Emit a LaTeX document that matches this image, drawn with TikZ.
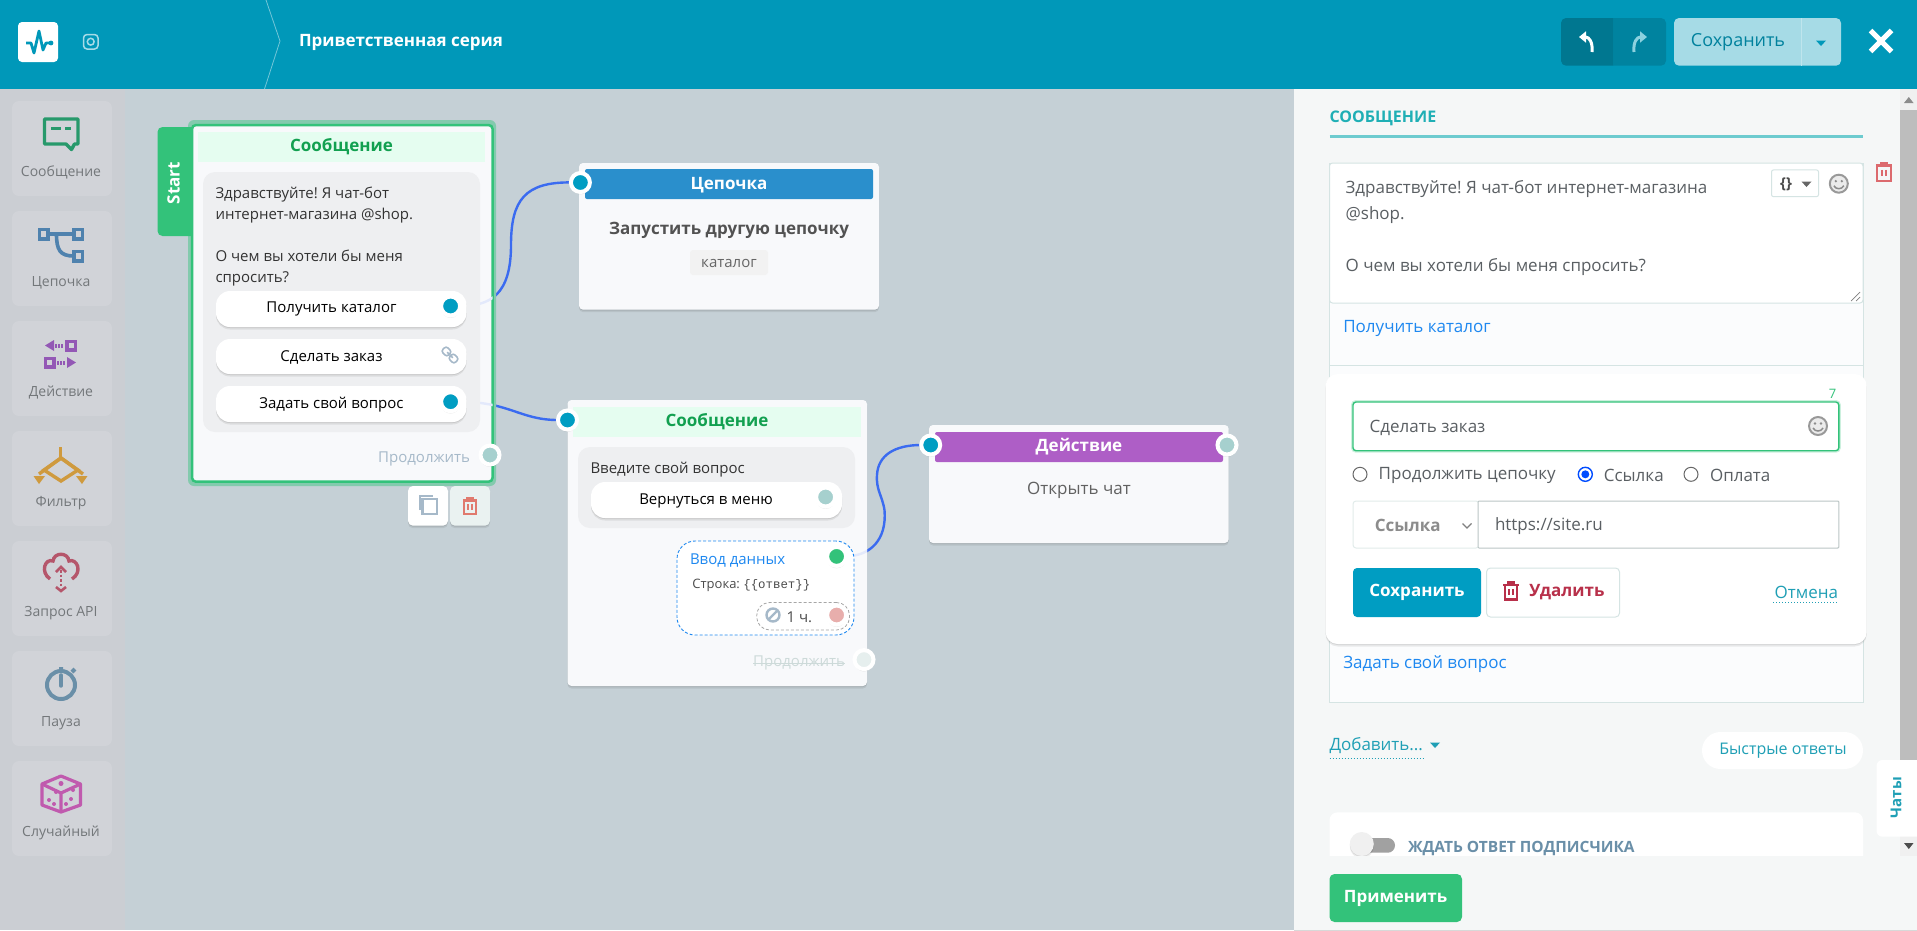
\documentclass[tikz,border=0pt]{standalone}
\usepackage{fontspec}
\setmainfont{Open Sans}
\newfontfamily\monofnt{Liberation Mono}
\usetikzlibrary{shadows,arrows.meta}
\frenchspacing
\pgfdeclarelayer{paper}
\pgfdeclarelayer{wires}
\pgfdeclarelayer{cards}
\pgfdeclarelayer{faint}
\pgfsetlayers{paper,wires,cards,faint,main}
\definecolor{headc}{HTML}{0098B9}
\definecolor{canvasc}{HTML}{C5D0D6}
\definecolor{sidec}{HTML}{CBCED3}
\definecolor{sidebtnc}{HTML}{D1D3D8}
\definecolor{cardc}{HTML}{F8F9FB}
\definecolor{bubblec}{HTML}{EEEFF1}
\definecolor{greenc}{HTML}{33C27A}
\definecolor{greentxt}{HTML}{12A050}
\definecolor{mintc}{HTML}{E5FDF0}
\definecolor{portc}{HTML}{009DC2}
\definecolor{paleport}{HTML}{A6D0CE}
\definecolor{redport}{HTML}{E8AEAC}
\definecolor{wirec}{HTML}{3B6BF0}
\definecolor{wirefaint}{HTML}{E3E9FB}
\definecolor{panelc}{HTML}{F5F7F7}
\definecolor{edgec}{HTML}{D5E4E3}
\definecolor{tealtxt}{HTML}{1F9FB5}
\definecolor{titleteal}{HTML}{1FAFB5}
\definecolor{linkc}{HTML}{1E88F0}
\definecolor{txtc}{HTML}{5A5F63}
\definecolor{chainblue}{HTML}{2A8FCC}
\definecolor{actpurple}{HTML}{AE5EC6}
\definecolor{delred}{HTML}{B8304A}
\definecolor{msgicon}{HTML}{27996B}
\definecolor{chainicon}{HTML}{4F82AE}
\definecolor{acticon}{HTML}{9358B5}
\definecolor{filticon}{HTML}{CF9A3E}
\definecolor{apiicon}{HTML}{B5566B}
\definecolor{waiticon}{HTML}{6A8FA8}
\definecolor{rndicon}{HTML}{C05AAE}
\definecolor{bangrey}{HTML}{A6B9C9}
\definecolor{droptrash}{HTML}{E07A6E}
\definecolor{paneltrash}{HTML}{DC6A6E}
\newcommand{\fs}[1]{\fontsize{#1}{#1}\selectfont}
\tikzset{
  x=1pt,y=-1pt,
  every node/.style={inner sep=0pt,outer sep=0pt},
  wh/.style 2 args={minimum width=#1pt,minimum height=#2pt},
  softshadow/.style={drop shadow={shadow xshift=0pt,shadow yshift=-2.5pt,opacity=.07,fill=black},
    drop shadow={shadow xshift=0pt,shadow yshift=-1pt,opacity=.09,fill=black}},
  card/.style={fill=cardc,rounded corners=4pt,softshadow},
  band/.style={rounded corners=2pt},
  bubble/.style={fill=bubblec,rounded corners=12pt},
  pillbtn/.style={fill=white,rounded corners=14pt},
  sidebtn/.style={fill=sidebtnc,rounded corners=7pt,wh={100}{95}},
  porto/.style={circle,minimum size=19pt,line width=4pt,draw=white,softshadow},
  wire/.style={draw=wirec,line width=2.4pt},
  wirelight/.style={draw=wirefaint,line width=2.4pt},
  icon/.style={line width=3pt,line join=round},
  tx/.style={yshift=-1.8pt},
  sidetxt/.style={tx,font=\fs{14},text=txtc!85!white},
  head/.style={tx,font=\fs{17}\bfseries,text=white},
  bodytxt/.style={tx,font=\fs{15},text=black!80},
  paneltxt/.style={tx,font=\fs{17},text=txtc},
  inputbox/.style={fill=white,draw=edgec,line width=1pt,rounded corners=3pt},
  radiobox/.style={circle,minimum size=14pt,draw=black!60,line width=1pt,fill=white},
}
\newcommand{\caretmark}[3]{\fill[#3] (#1-5,#2-2.5) -- (#1+5,#2-2.5) -- (#1,#2+3) -- cycle;}
\newcommand{\trashmark}[4]{\begin{scope}[shift={(#1,#2)},scale=#4,draw=#3,line width=2.2pt,line join=miter]
  \draw (-9,-7) -- (9,-7);
  \draw (-3.5,-7) -- (-3.5,-10) -- (3.5,-10) -- (3.5,-7);
  \draw (-7.5,-7) -- (-7.5,10) -- (7.5,10) -- (7.5,-7);
  \draw (-2.6,-2) -- (-2.6,5);
  \draw (2.6,-2) -- (2.6,5);
\end{scope}}
\newcommand{\facemark}[2]{\begin{scope}[shift={(#1,#2)}]
  \draw[black!40,line width=2pt,fill=black!8] (0,0) circle[radius=9pt];
  \fill[black!45] (-3,-2.5) circle[radius=1.3pt] (3,-2.5) circle[radius=1.3pt];
  \draw[black!45,line width=1.5pt] (-5,2) .. controls (-3,6) and (3,6) .. (5,2);
\end{scope}}
\begin{document}
\begin{tikzpicture}
\useasboundingbox (0,0) rectangle (1917,930);
\begin{pgfonlayer}{paper}
\node[fill=canvasc,wh={1917}{930}] (canvas) at (958.5,465) {};
\end{pgfonlayer}

% top bar
\node[fill=headc,wh={1917}{89}] (topbar) at (958.5,44.5) {};
\node[fill=white,rounded corners=4pt,wh={40}{40}] (logo) at (38,42) {};
\draw[headc,line width=2.8pt,line join=round] (26,43) -- (31,43) -- (34,53) -- (39,31) -- (43,50) -- (46,43) -- (51,43);
\fill[headc] (51,43) circle[radius=2.4pt];
\draw[headc!35!white,line width=1.5pt,rounded corners=3.5pt] (83.5,34.5) rectangle (98,49);
\draw[headc!35!white,line width=1.5pt] (90.7,41.7) circle[radius=3.4pt];
\draw[headc!55!white,line width=.8pt] (266,0) -- (280,41) -- (264.5,89);
\node[head,anchor=west] (flowname) at (299,40.5) {Приветственная серия};
\fill[black!22!headc,rounded corners=5pt] (1613.6,18) -- (1561,18) -- (1561,65.7) -- (1613.6,65.7);
\fill[black!14!headc,rounded corners=5pt] (1613.6,18) -- (1666,18) -- (1666,65.7) -- (1613.6,65.7);
\draw[white,line width=3pt,-{Triangle[length=7pt,width=11pt]}] (1592,52) .. controls (1593,42) and (1589,37) .. (1579,37);
\draw[headc!45!white,line width=3pt,-{Triangle[length=7pt,width=11pt]}] (1634,52) .. controls (1633,42) and (1637,37) .. (1647,37);
\node[fill=headc!35!white,rounded corners=5pt,wh={167}{47.7}] (savetop) at (1757.5,41.85) {};
\draw[white!75!headc,line width=.8pt] (1801.4,18) -- (1801.4,65.7);
\node[tx,font=\fs{18},text=headc!85!black] (savetoptxt) at (1738,40.5) {Сохранить};
\caretmark{1821}{43}{headc}
\draw[white,line width=5pt] (1870.5,30.5) -- (1891.5,51.5) (1870.5,51.5) -- (1891.5,30.5);

% left tool bar
\node[fill=sidec,wh={124.5}{841}] (toolbar) at (62.25,509.5) {};
\foreach \ypos/\tname/\tlab in {148.5/msg/Сообщение,258.5/chain/Цепочка,368.5/act/Действие,478.5/filt/Фильтр,588.5/api/Запрос API,698.5/wait/Пауза,808.5/rnd/Случайный}{
  \node[sidebtn] (tool\tname) at (62,\ypos) {};
  \node[sidetxt] (tool\tname txt) at (61,\ypos+22.5) {\tlab};
}
% tool icons
\draw[icon,line width=3.4pt,draw=msgicon] (44.5,119) -- (78,119) -- (78,144) -- (74.5,144) -- (71.5,149.5) -- (66,144) -- (44.5,144) -- cycle;
\draw[icon,draw=msgicon] (51,128) -- (61,128) (65,128) -- (71,128);
\begin{scope}[draw=chainicon,line width=3.6pt]
\draw (39.5,229.5) rectangle (48,239);
\draw (74,229.5) rectangle (82.5,239);
\draw (74,251.5) rectangle (82.5,261);
\draw (48,234) -- (74,234);
\draw (56.5,234) .. controls (56.5,250) and (60,256) .. (74,256);
\end{scope}
\begin{scope}[draw=acticon,fill=acticon]
\fill (45,345.5) -- (54,340) -- (54,351) -- cycle;
\draw[line width=4pt,dash pattern=on 2pt off 1.2pt] (55,345.5) -- (64,345.5);
\draw[line width=3.6pt] (67,341.5) rectangle (75.5,350);
\draw[line width=3.6pt] (45.5,358.5) rectangle (54,367);
\draw[line width=4pt,dash pattern=on 2pt off 1.2pt] (57,362.5) -- (66,362.5);
\fill (76,362.5) -- (67,357) -- (67,368) -- cycle;
\end{scope}
\begin{scope}[draw=filticon,fill=filticon,line width=3.4pt]
\draw (60.5,447) -- (60.5,458);
\draw (61,458) -- (44,470) -- (61,481) -- (78,470) -- cycle;
\draw (61,458) -- (39,474) (61,458) -- (83,474);
\fill (33.5,476) -- (45,476) -- (39,484) -- cycle;
\fill (76,476) -- (87.5,476) -- (82,484) -- cycle;
\end{scope}
\begin{scope}[draw=apiicon,line width=3.4pt]
\draw (50,579) .. controls (40,572) and (45,558) .. (53,561) .. controls (54,552) and (68,552) .. (69,561) .. controls (77,558) and (83,572) .. (72,579);
\draw[line width=2.6pt] (56,572) -- (61,567) -- (66,572);
\draw[line width=2.6pt,dash pattern=on 2.5pt off 2pt] (61,570) -- (61,587);
\draw[line width=2.6pt] (56,587) -- (61,591) -- (66,587);
\end{scope}
\begin{scope}[draw=waiticon,line width=4pt]
\draw (61,685) circle[radius=14pt];
\draw (61,671) -- (61,667) (72,672) -- (75,669);
\draw[line width=3.4pt,line cap=round] (61,675) -- (61,686);
\end{scope}
\begin{scope}[draw=rndicon,fill=rndicon,line width=3.2pt,line join=round]
\draw (61,776) -- (80.5,784) -- (80.5,805) -- (61,812) -- (42,805) -- (42,784) -- cycle;
\draw (42,784) -- (61,793) -- (80.5,784) (61,793) -- (61,812);
\fill (61,783.5) circle[radius=2.5pt] (56,792) circle[radius=2pt] (49,800) circle[radius=2pt] (73,790) circle[radius=2pt] (71,799) circle[radius=2pt] (66,804) circle[radius=2pt] (54,804) circle[radius=2pt];
\end{scope}

% first message
\begin{pgfonlayer}{cards}
\node[fill=greenc!45!canvasc,rounded corners=6pt,wh={308}{366}] (firstglow) at (342,303) {};
\node[fill=greenc,rounded corners=5pt,wh={42.5}{109}] (starttab) at (178.75,181.5) {};
\node[draw=greenc,line width=2.5pt,fill=cardc,rounded corners=4pt,wh={300.6}{356.7}] (firstcard) at (342.3,303.35) {};
\end{pgfonlayer}
\node[font=\fs{17}\bfseries,text=white,rotate=90] (starttxt) at (173.5,183) {Start};
\node[fill=mintc,wh={287}{30}] (firsthead) at (341.5,147) {};
\node[tx,font=\fs{17}\bfseries,text=greentxt] (firsttitle) at (341.5,145) {Сообщение};
\node[bubble,wh={277}{260}] (firstbubble) at (341.5,302) {};
\node[bodytxt,anchor=west,align=left,font=\fontsize{15}{21}\selectfont] (firsttxt) at (215.5,235) {Здравствуйте! Я чат-бот\\интернет-магазина @shop.\\[21pt]О чем вы хотели бы меня\\спросить?};
\node[pillbtn,softshadow,wh={250.5}{36}] (catbtn) at (341.25,309) {};
\node[pillbtn,softshadow,wh={250.5}{35}] (orderbtn) at (341.25,356.5) {};
\node[pillbtn,softshadow,wh={250.5}{36}] (askbtn) at (341.25,404) {};
\node[tx,font=\fs{15},text=black] (cattxt) at (331.5,307.5) {Получить каталог};
\node[tx,font=\fs{15},text=black] (ordertxt) at (331.5,356) {Сделать заказ};
\node[tx,font=\fs{15},text=black] (asktxt) at (331.5,403) {Задать свой вопрос};
\node[porto,fill=portc] (catport) at (450.6,306) {};
\node[porto,fill=portc] (askport) at (450.6,401.7) {};
\begin{scope}[shift={(450,355)},draw=bangrey,line width=1.6pt,rotate=-45]
\draw[rounded corners=2.5pt] (-1,-3.5) rectangle (-9,3.5);
\draw[rounded corners=2.5pt] (1,-3.5) rectangle (9,3.5);
\draw (-4,0) -- (4,0);
\end{scope}
\node[tx,font=\fs{15},text=bangrey,anchor=east] (firstnext) at (470,457) {Продолжить};
\node[porto,fill=paleport] (firstnextport) at (490,455) {};
\node[fill=white,rounded corners=5pt,softshadow,wh={40}{39.7}] (copybtn) at (428,505.85) {};
\node[fill=edgec!50!white,rounded corners=5pt,softshadow,wh={40}{39.7}] (dropbtn) at (470,505.85) {};
\draw[bangrey,line width=2.2pt] (422.5,499) rectangle (436.8,514);
\draw[bangrey,line width=1.8pt] (419.6,510) -- (419.6,496) -- (432.6,496);
\trashmark{470}{506}{droptrash}{.8}

% chain block
\begin{pgfonlayer}{cards}
\node[card,wh={300}{146.6}] (chaincard) at (729,236.3) {};
\end{pgfonlayer}
\node[band,fill=chainblue,wh={288}{30}] (chainhead) at (729,184) {};
\node[head] (chaintitle) at (729,183) {Цепочка};
\node[porto,fill=portc] (chainport) at (580.4,182.5) {};
\node[tx,font=\fs{17}\bfseries,text=black!68] (chainrun) at (729,228.6) {Запустить другую цепочку};
\node[fill=black!5,rounded corners=3pt,wh={78}{25}] (chaintag) at (729,262.5) {};
\node[tx,font=\fs{15},text=black!60] (chaintagtxt) at (729,262) {каталог};

% second message
\begin{pgfonlayer}{cards}
\node[card,wh={299.5}{286}] (askcard) at (717.25,543) {};
\end{pgfonlayer}
\node[fill=mintc,wh={287.5}{30}] (askhead) at (716.75,422) {};
\node[tx,font=\fs{17}\bfseries,text=greentxt] (asktitle) at (717,420) {Сообщение};
\node[porto,fill=portc] (askin) at (567.5,420) {};
\node[bubble,wh={277}{81}] (askbubble) at (716.5,487.5) {};
\node[bodytxt,anchor=west] (askprompt) at (590.5,468) {Введите свой вопрос};
\node[pillbtn,softshadow,wh={251}{36}] (backbtn) at (716.5,500) {};
\node[tx,font=\fs{15},text=black] (backtxt) at (706,499) {Вернуться в меню};
\node[porto,fill=paleport] (backport) at (825.6,497) {};
\node[fill=white,draw=linkc,dash pattern=on 3pt off 2pt,line width=.9pt,rounded corners=18pt,wh={177}{94}] (inputblock) at (765.5,588) {};
\node[tx,font=\fs{15},text=linkc,anchor=west] (inputtitle) at (690,559) {Ввод данных};
\node[tx,font=\fs{13},text=black!70,anchor=west] (inputline) at (692.4,584) {Строка: {\monofnt\fs{12.4}\{\{ответ\}\}}};
\node[draw=black!35,dash pattern=on 3pt off 2pt,line width=.8pt,rounded corners=13pt,wh={92.8}{27.5}] (limitbox) at (803.1,616.25) {};
\node[circle,draw=bangrey,line width=2.4pt,minimum size=13pt] (banmark) at (773,615) {};
\draw[bangrey,line width=2.4pt] (banmark.south west) -- (banmark.north east);
\node[tx,font=\fs{15},text=black!70,anchor=west] (limittxt) at (786.6,615) {1 ч.};
\node[porto,fill=greenc] (inputport) at (836.6,556.4) {};
\node[porto,fill=redport] (limitport) at (836.6,615) {};
\node[tx,font=\fs{15},text=edgec!90!gray,anchor=east] (asknext) at (845,661.4) {Продолжить};
\draw[edgec!90!gray,line width=.9pt] (asknext.west) -- (asknext.east);
\node[porto,fill=edgec!60!white] (asknextport) at (864,659.6) {};

% action block
\begin{pgfonlayer}{cards}
\node[card,wh={299.7}{118}] (actcard) at (1078.85,484) {};
\end{pgfonlayer}
\node[band,fill=actpurple,wh={288}{30}] (acthead) at (1079,447) {};
\node[head] (acttitle) at (1079,445) {Действие};
\node[porto,fill=portc] (actin) at (930.7,445) {};
\node[porto,fill=paleport] (actout) at (1227,445) {};
\node[tx,font=\fs{17},text=black!62] (acttxt) at (1079,489) {Открыть чат};

% connectors
\newcommand{\wirecat}{(catport) .. controls (490,306) and (511,295) .. (511,245) .. controls (511,200) and (525,182) .. (chainport)}
\newcommand{\wireask}{(askport) .. controls (510,402) and (520,420) .. (askin)}
\newcommand{\wireinput}{(inputport) .. controls (870,556) and (887,540) .. (884.5,510) .. controls (882,495) and (876,490) .. (877,475) .. controls (878,455) and (895,445) .. (actin)}
\begin{pgfonlayer}{wires}
\draw[wire] \wirecat;
\draw[wire] \wireask;
\draw[wire] \wireinput;
\end{pgfonlayer}
\begin{pgfonlayer}{faint}
\begin{scope}
\clip (firstcard.north west) rectangle (firstcard.south east);
\draw[wirelight] \wirecat;
\draw[wirelight] \wireask;
\end{scope}
\begin{scope}
\clip (askcard.north west) rectangle (askcard.south east);
\draw[wirelight] \wireinput;
\end{scope}
\end{pgfonlayer}

% right panel
\node[fill=panelc,wh={623.5}{841},softshadow] (panel) at (1605.25,509.5) {};
\node[fill=black!6,wh={17}{767}] (scrolltrack) at (1908.5,472.5) {};
\node[fill=black!26,wh={17}{655}] (scrollthumb) at (1908.5,437.5) {};
\fill[black!45] (1908.8,97) -- (1913.5,103) -- (1904,103) -- cycle;
\node[tx,font=\fs{16}\bfseries,text=titleteal,anchor=west] (paneltitle) at (1329.5,117) {СООБЩЕНИЕ};
\draw[titleteal!65!white,line width=2.5pt] (1329.5,136.5) -- (1863,136.5);
\node[fill=cardc!50!white,draw=edgec,line width=1pt,wh={533.5}{539}] (msgbox) at (1596.25,432.5) {};
\node[inputbox,wh={533.5}{140}] (msgarea) at (1596.25,233) {};
\node[paneltxt,anchor=west,align=left,font=\fontsize{17}{26}\selectfont] (msgtxt) at (1345.6,226) {Здравствуйте! Я чат-бот интернет-магазина\\@shop.\\[26pt]О чем вы хотели бы меня спросить?};
\node[inputbox,draw=edgec,rounded corners=2pt,wh={47}{26.7}] (varbtn) at (1795,183.3) {};
\node[tx,font=\fs{15}\bfseries,text=black!70] (vartxt) at (1786,182.5) {\{\}};
\caretmark{1806.5}{184}{black!60}
\facemark{1838.8}{183.7}
\draw[black!50,line width=.7pt] (1851,301) -- (1860,292) (1856,301) -- (1860,297);
\trashmark{1884}{171.7}{paneltrash}{.9}
\node[paneltxt,text=linkc,anchor=west] (catlink) at (1343.3,327) {Получить каталог};
\draw[edgec,line width=1pt] (msgbox.west |- 0,365.7) -- (msgbox.east |- 0,365.7);
\node[paneltxt,text=linkc,anchor=west] (asklink) at (1343.3,662) {Задать свой вопрос};

% button editor
\node[fill=white,rounded corners=12pt,softshadow,wh={541.1}{270}] (editor) at (1596.15,509) {};
\node[tx,font=\fs{13},text=greenc] (charcount) at (1832.5,391.7) {7};
\node[inputbox,draw=greenc,line width=1.4pt,preaction={draw=greenc!25!white,line width=4pt},wh={485.8}{48.7}] (btninput) at (1595.9,426.35) {};
\node[paneltxt,anchor=west] (btninputtxt) at (1369.7,426) {Сделать заказ};
\facemark{1818}{426}
\node[radiobox] (radiochain) at (1360,474.3) {};
\node[paneltxt,anchor=west] (radiochaintxt) at (1378.7,474) {Продолжить цепочку};
\node[radiobox,draw=blue!70!cyan,line width=1.4pt] (radiolink) at (1585.3,474.3) {};
\node[circle,fill=blue!70!cyan,minimum size=8pt] (radiolinkdot) at (radiolink) {};
\node[paneltxt,anchor=west] (radiolinktxt) at (1603.8,474) {Ссылка};
\node[radiobox] (radiopay) at (1691,474.3) {};
\node[paneltxt,anchor=west] (radiopaytxt) at (1710,474) {Оплата};
\node[inputbox,draw=edgec!70!white,wh={126}{47}] (linkkind) at (1416,524.5) {};
\node[tx,font=\fs{17}\bfseries,text=black!45,anchor=west] (linkkindtxt) at (1374.8,524) {Ссылка};
\draw[black!50,line width=1.3pt] (1462.5,523.5) -- (1467,528) -- (1471.5,523.5);
\node[inputbox,draw=edgec!70!gray,rounded corners=1pt,wh={360.8}{47}] (urlinput) at (1658.4,524.5) {};
\node[paneltxt,anchor=west] (urltxt) at (1495,524) {https://site.ru};
\node[fill=portc,rounded corners=4pt,wh={128}{49}] (savebtn) at (1417,592.5) {};
\node[head] (savetxt) at (1417,590.5) {Сохранить};
\node[inputbox,rounded corners=4pt,wh={133}{49}] (delbtn) at (1553,592.5) {};
\trashmark{1511}{591}{delred}{.85}
\node[tx,font=\fs{17}\bfseries,text=delred,anchor=west] (deltxt) at (1529.4,590.5) {Удалить};
\node[tx,font=\fs{17},text=tealtxt,anchor=east] (canceltxt) at (1838,590.5) {Отмена};
\draw[tealtxt,line width=1pt,dotted] (1773,602) -- (1838,602);

% under the editor
\node[tx,font=\fs{17},text=tealtxt,anchor=west] (addtxt) at (1329.5,744) {Добавить...};
\draw[tealtxt,line width=1pt,dotted] (1329.5,758) -- (1425,758);
\caretmark{1435}{745}{tealtxt}
\node[fill=white,rounded corners=18.5pt,wh={161}{37}] (quickbtn) at (1782.5,750.5) {};
\node[tx,font=\fs{16},text=tealtxt] (quicktxt) at (1783,749.3) {Быстрые ответы};
\node[fill=white,rounded corners=8pt,wh={533.5}{60}] (waitbox) at (1596.25,842.3) {};
\fill[white,rounded corners=6pt] (1917,760) -- (1876.5,760) -- (1876.5,836.7) -- (1917,836.7);
\node[font=\fs{15}\bfseries,text=tealtxt,rotate=90] (chatstxt) at (1896,797.7) {Чаты};
\fill[black!70] (1904,843) -- (1913.5,843) -- (1908.8,849) -- cycle;
\node[fill=black!37,rounded corners=7.3pt,wh={44}{14.7}] (waittrack) at (1373,845.35) {};
\node[circle,fill=black!6,softshadow,minimum size=24pt] (waitknob) at (1361.8,844) {};
\node[tx,font=\fs{15.5}\bfseries,text=waiticon,anchor=west] (waittxt) at (1408,846.7) {ЖДАТЬ ОТВЕТ ПОДПИСЧИКА};
\node[fill=panelc,wh={623.5}{74}] (footer) at (1605.25,893) {};
\node[fill=greenc,rounded corners=5pt,wh={132.5}{48}] (applybtn) at (1395.75,898) {};
\node[head] (applytxt) at (1395.6,896.7) {Применить};
\end{tikzpicture}
\end{document}
